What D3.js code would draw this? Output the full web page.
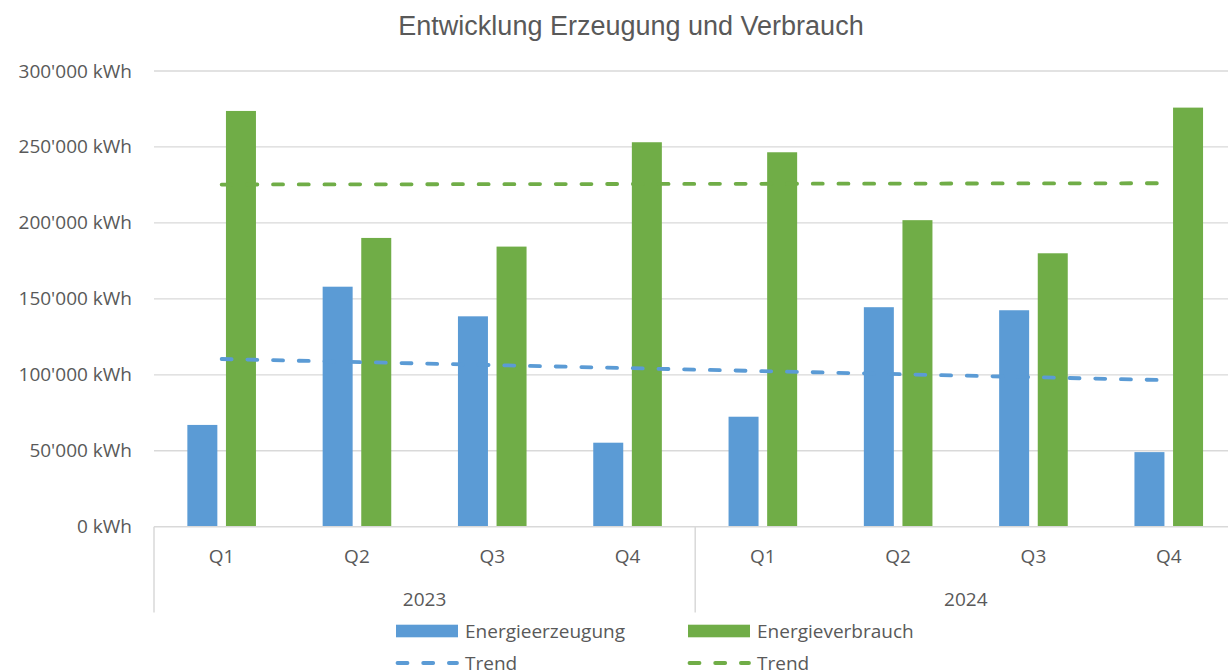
<!DOCTYPE html>
<html>
<head>
<meta charset="utf-8">
<script src="https://cdn.jsdelivr.net/npm/d3@7"></script>
<style>
  body { margin: 0; background: #fff; }
  svg text { fill: #595959; }
</style>
</head>
<body>
<script>
// Daten
const years = ["2023", "2024"];
const quarters = ["Q1", "Q2", "Q3", "Q4"];
const erzeugung = [67000, 158000, 138500, 55300, 72400, 144500, 142500, 49100];
const verbrauch = [273700, 190100, 184400, 253100, 246500, 201800, 180000, 275900];
const yTicks = [0, 50000, 100000, 150000, 200000, 250000, 300000];

const w = 1228, h = 672;
const blue = "#5B9BD5", green = "#70AD47";
const labelFont = "'Open Sans', sans-serif";
const labelSize = "19px";

const svg = d3.select("body").append("svg")
  .attr("width", w).attr("height", h);

// eine Kategorie pro Jahr+Quartal
const cats = [];
years.forEach(y => quarters.forEach(q => cats.push({ year: y, q: q, key: y + q })));

const x = d3.scaleBand()
  .domain(cats.map(d => d.key))
  .range([154, 1236.4]);

const xSub = d3.scaleBand()
  .domain(["erz", "verb"])
  .range([0, 68.6])
  .paddingInner(0.223);

const y = d3.scaleLinear()
  .domain([0, 300000])
  .range([526.7, 71]);

const loc = d3.formatLocale({ decimal: ".", thousands: "'", grouping: [3], currency: ["", ""] });
const fmt = v => loc.format(",")(v) + " kWh";

// Gitterlinien
svg.append("g").selectAll("line")
  .data(yTicks.slice(1))
  .enter().append("line")
  .attr("x1", 154).attr("x2", w)
  .attr("y1", d => y(d)).attr("y2", d => y(d))
  .attr("stroke", "#d9d9d9").attr("stroke-width", 1.3);

// Y-Achse Beschriftung
svg.append("g").selectAll("text")
  .data(yTicks)
  .enter().append("text")
  .attr("x", 132)
  .attr("y", d => y(d) + 6.5)
  .attr("text-anchor", "end")
  .style("font-family", labelFont)
  .style("font-size", labelSize)
  .text(fmt);

// Balken
const groups = svg.append("g").selectAll("g")
  .data(cats)
  .enter().append("g")
  .attr("transform", d => "translate(" + (x(d.key) + x.bandwidth() / 2 - 34.3) + ",0)");

groups.append("rect")
  .attr("x", xSub("erz"))
  .attr("width", xSub.bandwidth())
  .attr("y", (d, i) => y(erzeugung[i]))
  .attr("height", (d, i) => y(0) - y(erzeugung[i]))
  .attr("fill", blue);

groups.append("rect")
  .attr("x", xSub("verb"))
  .attr("width", xSub.bandwidth())
  .attr("y", (d, i) => y(verbrauch[i]))
  .attr("height", (d, i) => y(0) - y(verbrauch[i]))
  .attr("fill", green);

// X-Achse
svg.append("line")
  .attr("x1", 154).attr("x2", w)
  .attr("y1", y(0)).attr("y2", y(0))
  .attr("stroke", "#d9d9d9").attr("stroke-width", 1.5);

const dividers = [0, 4, 8].map(i => i < 8 ? x(cats[i].key) : x.range()[1]);
svg.append("g").selectAll("line")
  .data(dividers)
  .enter().append("line")
  .attr("x1", d => d).attr("x2", d => d)
  .attr("y1", y(0)).attr("y2", 612.5)
  .attr("stroke", "#d9d9d9").attr("stroke-width", 1.5);

svg.append("g").selectAll("text")
  .data(cats)
  .enter().append("text")
  .attr("x", d => x(d.key) + x.bandwidth() / 2)
  .attr("y", 562.5)
  .attr("text-anchor", "middle")
  .style("font-family", labelFont)
  .style("font-size", labelSize)
  .text(d => d.q);

svg.append("g").selectAll("text")
  .data(years)
  .enter().append("text")
  .attr("x", (d, i) => (x(cats[i * 4].key) + x(cats[i * 4 + 3].key) + x.bandwidth()) / 2)
  .attr("y", 605.5)
  .attr("text-anchor", "middle")
  .style("font-family", labelFont)
  .style("font-size", labelSize)
  .text(d => d);

// lineare Trendlinien (wie Excel)
function trend(vals) {
  const n = vals.length;
  const xs = d3.range(1, n + 1);
  const mx = d3.mean(xs), my = d3.mean(vals);
  const sxy = d3.sum(xs, (xi, i) => (xi - mx) * (vals[i] - my));
  const sxx = d3.sum(xs, xi => (xi - mx) * (xi - mx));
  const b = sxy / sxx, a = my - b * mx;
  return [xs[0], xs[n - 1]].map(xi => [x(cats[xi - 1].key) + x.bandwidth() / 2, y(a + b * xi)]);
}

const line = d3.line();
[[erzeugung, blue], [verbrauch, green]].forEach(function (s) {
  svg.append("path")
    .attr("d", line(trend(s[0])))
    .attr("fill", "none")
    .attr("stroke", s[1])
    .attr("stroke-width", 3.8)
    .attr("stroke-linecap", "round")
    .attr("stroke-dasharray", "10 15.7");
});

// Titel
svg.append("text")
  .attr("x", 631).attr("y", 35)
  .attr("text-anchor", "middle")
  .style("font-family", "'Liberation Sans', Arial, sans-serif")
  .style("font-size", "27px")
  .text("Entwicklung Erzeugung und Verbrauch");

// Legende
const legend = [
  { name: "Energieerzeugung", color: blue, type: "bar", x: 396, y: 631 },
  { name: "Energieverbrauch", color: green, type: "bar", x: 688, y: 631 },
  { name: "Trend", color: blue, type: "line", x: 396, y: 663 },
  { name: "Trend", color: green, type: "line", x: 688, y: 663 }
];
const lg = svg.append("g").selectAll("g")
  .data(legend)
  .enter().append("g")
  .attr("transform", d => "translate(" + d.x + "," + d.y + ")");

lg.filter(d => d.type === "bar").append("rect")
  .attr("x", 0).attr("y", -6.3)
  .attr("width", 62).attr("height", 12.6)
  .attr("fill", d => d.color);

lg.filter(d => d.type === "line").append("line")
  .attr("x1", 1.5).attr("x2", 61)
  .attr("y1", 0).attr("y2", 0)
  .attr("stroke", d => d.color)
  .attr("stroke-width", 3.8)
  .attr("stroke-linecap", "round")
  .attr("stroke-dasharray", "10 15.7");

lg.append("text")
  .attr("x", 69).attr("y", 6.5)
  .style("font-family", labelFont)
  .style("font-size", labelSize)
  .text(d => d.name);
</script>
</body>
</html>
